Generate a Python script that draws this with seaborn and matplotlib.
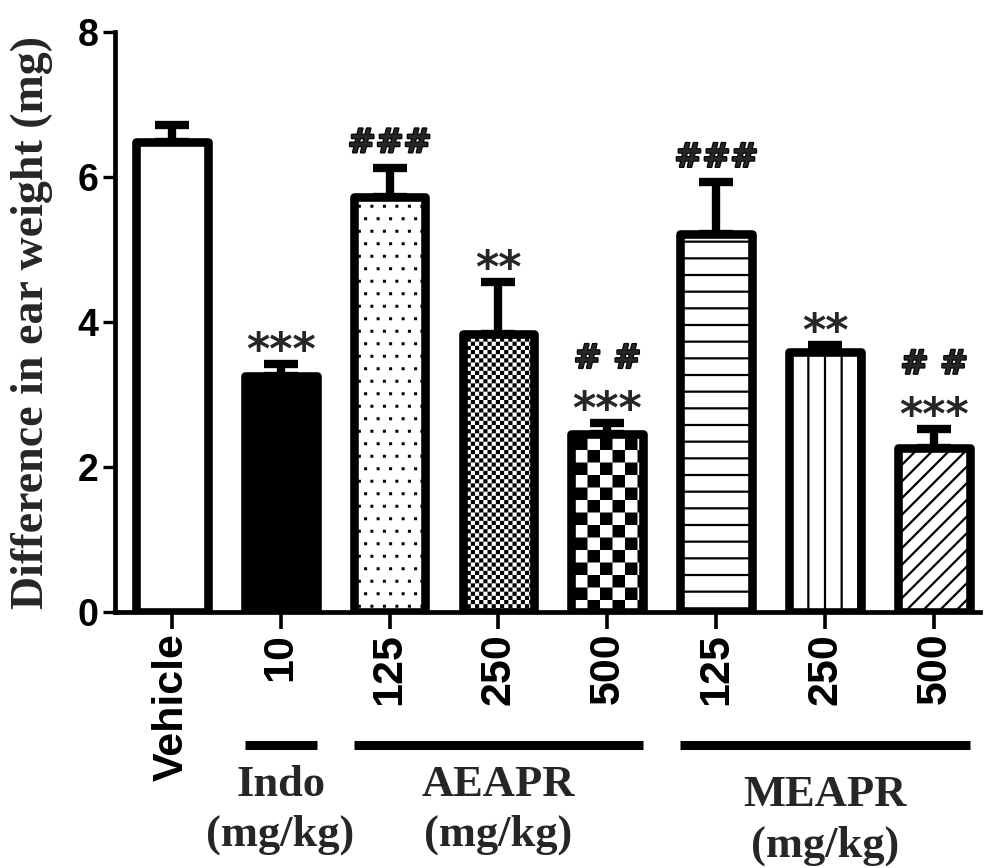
import warnings
import numpy as np
import matplotlib
matplotlib.use('Agg')
import matplotlib.pyplot as plt
import matplotlib.hatch as mhatch
import matplotlib.patheffects as pe
import matplotlib.transforms as mtransforms
from matplotlib.path import Path
import seaborn as sns

warnings.filterwarnings('ignore', category=matplotlib.MatplotlibDeprecationWarning)

# data (mean + SEM, mg)
bar_keys = ['veh', 'indo10', 'ae125', 'ae250', 'ae500', 'me125', 'me250', 'me500']
dose_labels = ['Vehicle', '10', '125', '250', '500', '125', '250', '500']
means = [6.48, 3.26, 5.73, 3.83, 2.46, 5.21, 3.58, 2.26]
sems = [0.24, 0.16, 0.40, 0.72, 0.14, 0.72, 0.10, 0.26]
star_marks = ['', '***', '', '**', '***', '', '**', '***']
hash_marks = ['', '', '###', '', '# #', '###', '', '# #']
face_colors = ['white', 'black', 'white', 'white', 'white', 'white', 'white', 'white']
hatch_codes = ['', '', 'd', 'k', 'K', '-', '|', '//']
group_names = ['Indo', 'AEAPR', 'MEAPR']
group_members = [['indo10'], ['ae125', 'ae250', 'ae500'], ['me125', 'me250', 'me500']]

HATCH_LW = 1.6


class BoxHatch(mhatch.HatchPatternBase):
    # filled squares: 'k' fine checker, 'K' coarse checker, 'd' dots
    def __init__(self, hatch, density):
        shrink = HATCH_LW / 72.0
        boxes = []
        for code, n in (('k', 24), ('K', 8)):
            if code in hatch:
                c = 1.0 / n
                side = max(c - shrink, 0.002)
                for i in range(n):
                    for j in range(n):
                        if (i + j) % 2 == 0:
                            boxes.append(((i + 0.5) * c, (j + 0.5) * c, side))
        if 'd' in hatch:
            n = 8
            side = max(0.03 - shrink, 0.004)
            for j in range(n):
                for i in range(n):
                    boxes.append(((i + 0.25 + 0.5 * (j % 2)) / n, (j + 0.5) / n, side))
        self.boxes = boxes
        self.num_vertices = 5 * len(boxes)

    def set_vertices_and_codes(self, vertices, codes):
        for k, (cx, cy, s) in enumerate(self.boxes):
            h = s / 2
            vertices[5 * k:5 * k + 5] = [(cx - h, cy - h), (cx + h, cy - h),
                                         (cx + h, cy + h), (cx - h, cy + h),
                                         (cx - h, cy - h)]
            codes[5 * k:5 * k + 5] = [Path.MOVETO, Path.LINETO, Path.LINETO,
                                      Path.LINETO, Path.CLOSEPOLY]


if hasattr(mhatch, '_hatch_types'):
    mhatch._hatch_types.append(BoxHatch)
else:
    hatch_codes = [h.replace('k', 'xxxx').replace('K', '++').replace('d', '.') for h in hatch_codes]

sns.set_style('ticks')
plt.rcParams['font.family'] = ['Liberation Sans', 'DejaVu Sans']
plt.rcParams['font.weight'] = 'bold'
plt.rcParams['hatch.linewidth'] = HATCH_LW

fig = plt.figure(figsize=(10, 8.68), dpi=100)
ax = fig.add_axes([0.115, 0.295, 0.865, 0.668])

sns.barplot(x=bar_keys, y=means, order=bar_keys, color='white', edgecolor='black',
            linewidth=6.2, width=0.66, errorbar=None, ax=ax, zorder=2)

centers = []
for patch, fc, hc in zip(ax.patches, face_colors, hatch_codes):
    patch.set_facecolor(fc)
    patch.set_hatch(hc)
    patch.set_joinstyle('round')
    centers.append(patch.get_x() + patch.get_width() / 2)

ax.errorbar(centers, means, yerr=[np.zeros(len(means)), sems], fmt='none',
            ecolor='black', elinewidth=6, capsize=12.5, capthick=6, zorder=1)

ax.set_ylim(0, 8)
ax.set_xlim(-0.52, 7.42)
ax.set_yticks([0, 2, 4, 6, 8])
ax.set_xticks(centers)
ax.set_xticklabels(dose_labels, rotation=90, fontsize=31, fontweight='bold')
for lab in ax.get_yticklabels():
    lab.set_fontsize(27)
    lab.set_fontweight('bold')
ax.tick_params(axis='y', length=9, width=2.4, pad=3, colors='black')
ax.tick_params(axis='x', length=12, width=2.6, pad=3, colors='black')
sns.despine(ax=ax)
for side in ('left', 'bottom'):
    ax.spines[side].set_linewidth(3.4)
    ax.spines[side].set_color('black')

ax.set_ylabel('Difference in ear weight (mg)', fontsize=33, fontweight='bold',
              family='Liberation Serif')
ax.yaxis.set_label_coords(-0.072, 0.5)
ax.set_xlabel('')

# significance marks
mark_font = ['DejaVu Sans']
heavy = [pe.withStroke(linewidth=1.6, foreground='black')]
for x, m, e, s, h in zip(centers, means, sems, star_marks, hash_marks):
    top = m + e
    if s:
        ax.annotate(s, (x, top), xytext=(0, 0), textcoords='offset points',
                    ha='center', va='baseline', fontsize=32, fontweight='bold',
                    family=mark_font)
    if h:
        dy = 40 if s else 11
        ax.annotate(h, (x, top), xytext=(0, dy), textcoords='offset points',
                    ha='center', va='baseline', fontsize=24, fontweight='bold',
                    family=mark_font, path_effects=heavy)

# group bars and labels under the axis
trans = mtransforms.blended_transform_factory(ax.transData, ax.transAxes)
for name, members in zip(group_names, group_members):
    xs = [centers[bar_keys.index(k)] for k in members]
    ax.plot([min(xs) - 0.33, max(xs) + 0.33], [-0.229, -0.229], color='black',
            lw=6.5, solid_capstyle='butt', transform=trans, clip_on=False)
    mid = (min(xs) + max(xs)) / 2
    yoff = -0.018 if name == 'MEAPR' else 0.0
    ax.text(mid, -0.298 + yoff, name, transform=trans, ha='center', va='center',
            fontsize=32, fontweight='bold', family='Liberation Serif')
    ax.text(mid, -0.385 + yoff, '(mg/kg)', transform=trans, ha='center', va='center',
            fontsize=32, fontweight='bold', family='Liberation Serif')

fig.savefig('out.png', dpi=100)
